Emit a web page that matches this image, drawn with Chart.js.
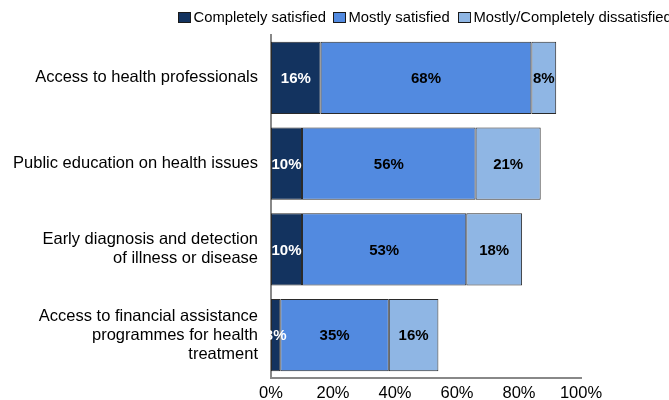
<!DOCTYPE html>
<html>
<head>
<meta charset="utf-8">
<script src="https://cdn.jsdelivr.net/npm/chart.js@4.4.1/dist/chart.umd.min.js"></script>
<style>
html,body{margin:0;padding:0;background:#fff;overflow:hidden;}
#wrap{position:relative;width:669px;height:400px;}
</style>
</head>
<body>
<div id="wrap"><canvas id="c" width="669" height="400"></canvas></div>
<script>
const categories = [
  "Access to health professionals",
  "Public education on health issues",
  ["Early diagnosis and detection", "of illness or disease"],
  ["Access to financial assistance", "programmes for health", "treatment"]
];
const seriesNames = ["Completely satisfied", "Mostly satisfied", "Mostly/Completely dissatisfied"];
const completelySatisfied = [16, 10, 10, 3];
const mostlySatisfied = [68, 56, 53, 35];
const dissatisfied = [8, 21, 18, 16];
const xTicks = [0, 20, 40, 60, 80, 100];

const colors = ["#13335f", "#528ae0", "#8fb6e4"];
const labelColors = ["#ffffff", "#000000", "#000000"];
const FONT = "'Liberation Sans', Arial, Helvetica, sans-serif";

const valueLabels = {
  id: 'valueLabels',
  afterDatasetsDraw(chart) {
    const ctx = chart.ctx;
    ctx.save();
    ctx.font = "bold 15px " + FONT;
    ctx.textAlign = 'center';
    ctx.textBaseline = 'middle';
    chart.data.datasets.forEach((ds, di) => {
      const meta = chart.getDatasetMeta(di);
      meta.data.forEach((bar, i) => {
        const p = bar.getProps(['x', 'y', 'base'], true);
        const cx = (p.x + p.base) / 2;
        ctx.fillStyle = labelColors[di];
        ctx.fillText(ds.data[i] + '%', cx, p.y + 1);
      });
    });
    ctx.restore();
  }
};

const topLegend = {
  id: 'topLegend',
  afterDraw(chart) {
    const ctx = chart.ctx;
    ctx.save();
    ctx.font = "14.8px " + FONT;
    ctx.textBaseline = 'middle';
    ctx.textAlign = 'left';
    const boxX = [178, 333, 458];
    seriesNames.forEach((name, i) => {
      ctx.fillStyle = colors[i];
      ctx.fillRect(boxX[i] + 0.5, 12.5, 12, 10);
      ctx.strokeStyle = '#1a1a1a';
      ctx.lineWidth = 1;
      ctx.strokeRect(boxX[i] + 0.5, 12.5, 12, 10);
      ctx.fillStyle = '#000';
      ctx.fillText(name, boxX[i] + 15.5, 18);
    });
    ctx.restore();
  }
};

new Chart(document.getElementById('c'), {
  type: 'bar',
  data: {
    labels: categories,
    datasets: [
      { label: seriesNames[0], data: completelySatisfied, backgroundColor: colors[0] },
      { label: seriesNames[1], data: mostlySatisfied, backgroundColor: colors[1] },
      { label: seriesNames[2], data: dissatisfied, backgroundColor: colors[2] }
    ].map(d => Object.assign(d, { borderColor: '#2a2a2a', borderWidth: 1, borderSkipped: false, categoryPercentage: 1, barPercentage: 0.84 }))
  },
  options: {
    indexAxis: 'y',
    responsive: false,
    animation: false,
    events: [],
    layout: { padding: { top: 35, right: 88, left: 0, bottom: 0 } },
    plugins: { legend: { display: false }, tooltip: { enabled: false } },
    scales: {
      x: {
        stacked: true,
        min: 0, max: 100,
        afterBuildTicks(scale) { scale.ticks = xTicks.map(v => ({ value: v })); },
        afterFit(scale) { scale.height = 22; scale.paddingLeft = 0; scale.paddingRight = 0; },
        grid: { display: false, drawTicks: false },
        border: { display: true, color: '#888888', width: 2 },
        ticks: {
          padding: 6,
          color: '#000',
          font: { family: FONT, size: 16.5 },
          maxRotation: 0,
          callback: v => v + '%'
        }
      },
      y: {
        stacked: true,
        afterFit(scale) { scale.width = 271; scale.paddingTop = 0; scale.paddingBottom = 0; },
        grid: { display: false, drawTicks: false },
        border: { display: true, color: '#888888', width: 2 },
        ticks: {
          padding: 13,
          color: '#000',
          font: { family: FONT, size: 16.5, lineHeight: 1.15 }
        }
      }
    }
  },
  plugins: [valueLabels, topLegend]
});
</script>
</body>
</html>
